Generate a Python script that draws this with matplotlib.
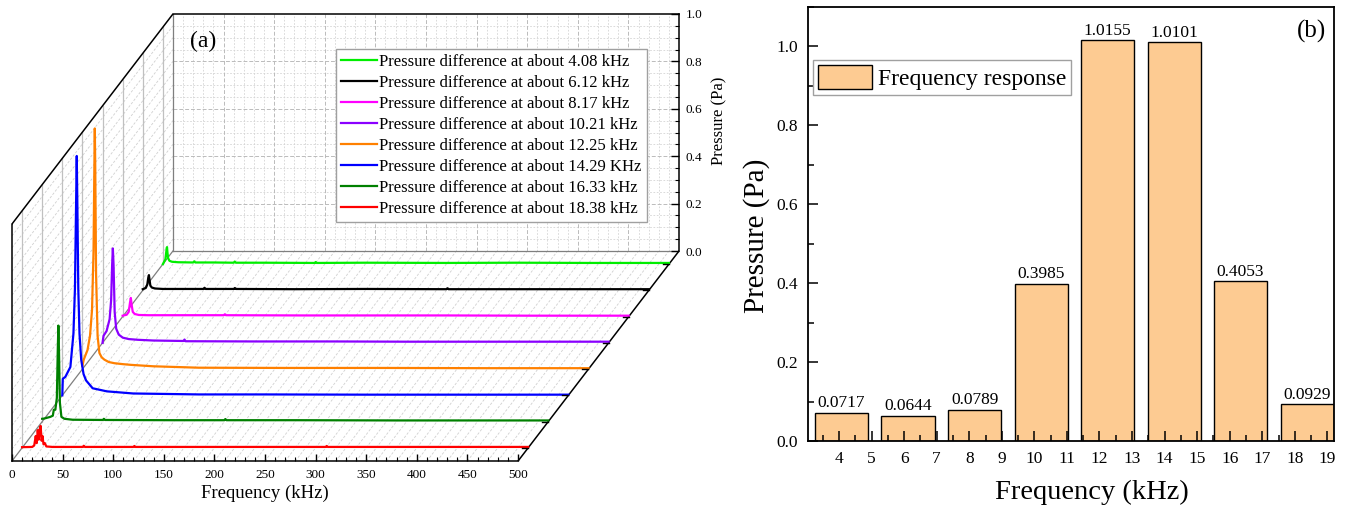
import matplotlib
matplotlib.use('Agg')
import matplotlib.pyplot as plt
import numpy as np
from matplotlib import transforms
from matplotlib.ticker import FixedLocator, MultipleLocator

plt.rcParams['font.family'] = ['Liberation Serif', 'DejaVu Serif']

# ---------------- data: panel (a) spectra ----------------
labels_a = ['Pressure difference at about 4.08 kHz', 'Pressure difference at about 6.12 kHz',
            'Pressure difference at about 8.17 kHz', 'Pressure difference at about 10.21 kHz',
            'Pressure difference at about 12.25 kHz', 'Pressure difference at about 14.29 KHz',
            'Pressure difference at about 16.33 kHz', 'Pressure difference at about 18.38 kHz']
colors_a = ['#00EE00', '#000000', '#FF00FF', '#8A00FF', '#FF8000', '#0000FF', '#008000', '#FF0000']

f_408 = [0, 1, 2.5, 3.3, 3.8, 4.1, 4.5, 5.2, 6.5, 9, 15, 30, 31, 32, 50, 70, 71, 72, 100, 150, 151, 152, 200, 280, 350, 420, 500]
p_408 = [0.0, 0.008, 0.02, 0.05, 0.068, 0.0717, 0.05, 0.025, 0.014, 0.01, 0.008, 0.007, 0.012, 0.007, 0.007, 0.006, 0.011, 0.006, 0.006, 0.005, 0.009, 0.005, 0.006, 0.005, 0.006, 0.005, 0.005]

f_612 = [0, 3, 4.5, 5.5, 6.1, 6.7, 7.5, 9, 12, 20, 60, 61, 62, 90, 91, 92, 150, 220, 300, 301, 302, 380, 450, 500]
p_612 = [0.005, 0.01, 0.025, 0.055, 0.0644, 0.045, 0.02, 0.012, 0.008, 0.006, 0.006, 0.011, 0.006, 0.006, 0.010, 0.006, 0.005, 0.006, 0.005, 0.009, 0.005, 0.005, 0.005, 0.005]

f_817 = [0, 4, 6, 7.3, 8.1, 8.9, 10, 12, 16, 25, 60, 100, 101, 102, 180, 250, 320, 400, 500]
p_817 = [0.004, 0.008, 0.02, 0.06, 0.0789, 0.05, 0.02, 0.011, 0.007, 0.006, 0.006, 0.006, 0.010, 0.006, 0.005, 0.005, 0.005, 0.004, 0.004]

f_1021 = [0, 1, 4, 7, 8.5, 9.5, 10.21, 10.9, 12, 13.5, 16, 20, 26, 35, 50, 80, 81, 82, 150, 230, 300, 400, 500]
p_1021 = [0.0, 0.03, 0.05, 0.1, 0.18, 0.33, 0.3985, 0.33, 0.13, 0.06, 0.035, 0.022, 0.016, 0.013, 0.010, 0.008, 0.014, 0.007, 0.006, 0.006, 0.005, 0.005, 0.005]

f_1225 = [0, 1.3, 5, 7.5, 9.5, 11, 11.8, 12.25, 12.7, 13.5, 15, 16.8, 19, 21.7, 26, 31.6, 40, 48, 70, 115, 200, 300, 400, 500]
p_1225 = [0.013, 0.04, 0.08, 0.14, 0.25, 0.5, 0.85, 1.0155, 0.85, 0.4, 0.14, 0.068, 0.05, 0.04, 0.03, 0.025, 0.021, 0.018, 0.012, 0.006, 0.005, 0.005, 0.004, 0.004]

f_1429 = [0, 0.5, 3, 8, 11, 12.5, 13.6, 14.29, 14.9, 15.8, 17, 18.7, 21, 23.5, 30, 44, 70, 135, 200, 300, 400, 500]
p_1429 = [0.0, 0.07, 0.078, 0.12, 0.26, 0.45, 0.8, 1.0101, 0.8, 0.45, 0.26, 0.15, 0.09, 0.063, 0.03, 0.017, 0.008, 0.004, 0.004, 0.003, 0.003, 0.003]

f_1633 = [0, 2, 8, 10.5, 11.5, 13, 14.5, 15.4, 16.0, 16.6, 17.5, 19, 22, 30, 60, 61, 62, 130, 180, 181, 182, 250, 350, 420, 500]
p_1633 = [0.012, 0.013, 0.02, 0.025, 0.05, 0.05, 0.1, 0.3, 0.4053, 0.3, 0.08, 0.02, 0.012, 0.008, 0.007, 0.012, 0.007, 0.006, 0.006, 0.011, 0.006, 0.006, 0.005, 0.005, 0.005]

f_1838 = [0, 10, 12, 13.5, 14.5, 15.5, 16.5, 17.5, 18.38, 19.3, 20.2, 21.2, 22.5, 24, 30, 60, 61, 62, 110, 111, 112, 200, 300, 301, 302, 400, 500]
p_1838 = [0.003, 0.004, 0.01, 0.05, 0.02, 0.075, 0.035, 0.08, 0.0929, 0.03, 0.05, 0.015, 0.02, 0.006, 0.004, 0.004, 0.009, 0.004, 0.004, 0.008, 0.004, 0.004, 0.004, 0.008, 0.004, 0.004, 0.004]

freqs_a = [f_408, f_612, f_817, f_1021, f_1225, f_1429, f_1633, f_1838]
press_a = [p_408, p_612, p_817, p_1021, p_1225, p_1429, p_1633, p_1838]

xticks_a = list(range(0, 501, 50))
zticks_a = [0.0, 0.2, 0.4, 0.6, 0.8, 1.0]

# ---------------- data: panel (b) bars ----------------
bar_freq = [4.08, 6.12, 8.17, 10.21, 12.25, 14.29, 16.33, 18.38]
bar_val = [0.0717, 0.0644, 0.0789, 0.3985, 1.0155, 1.0101, 0.4053, 0.0929]
xticks_b = list(range(4, 20))
yticks_b = [0.0, 0.2, 0.4, 0.6, 0.8, 1.0]

W, H = 1346, 511
fig = plt.figure(figsize=(W / 100, H / 100), dpi=100)


def px_axes(l, t, r, b):
    return [l / W, (H - b) / H, (r - l) / W, (b - t) / H]


# ================= panel (a): oblique waterfall =================
DX, DY = 159.0, 0.886       # depth shear (in kHz units and Pa units)
FMAX, PMAX = 500.0, 1.0
ax1 = fig.add_axes(px_axes(12, 14, 679, 461))
ax1.set_xlim(0, FMAX + DX)
ax1.set_ylim(0, PMAX + DY)


def off(d):
    return transforms.Affine2D().translate(DX * d, DY * d) + ax1.transData


nser = len(freqs_a)
depths = [(nser - 1 - i + 0.5) / nser for i in range(nser)]   # back (green) to front (red)

gmin = dict(color='#D4D4D4', lw=0.6, ls=(0, (2, 2)), zorder=0.5)
gmaj = dict(color='#BBBBBB', lw=0.7, ls=(0, (4, 2)), zorder=0.6)
fminor = [f for f in np.arange(10, 500, 10) if f % 50 != 0]
fmajor = [f for f in np.arange(50, 500, 50)]
pminor = [p for p in np.arange(0.05, 1.0, 0.05) if abs(p / 0.2 - round(p / 0.2)) > 1e-6]
pmajor = [0.2, 0.4, 0.6, 0.8]

# back wall grid (d = 1)
ax1.vlines(fminor, 0, PMAX, transform=off(1.0), **gmin)
ax1.vlines(fmajor, 0, PMAX, transform=off(1.0), **gmaj)
ax1.hlines(pminor, 0, FMAX, transform=off(1.0), **gmin)
ax1.hlines(pmajor, 0, FMAX, transform=off(1.0), **gmaj)

# floor grid (constant frequency lines going back)
for f in fminor + fmajor:
    ax1.plot([f, f + DX], [0, DY], color='#D0D0D0', lw=0.6, ls=(0, (3, 2)), zorder=0.5)
# left wall grid
for p in pminor + pmajor:
    ax1.plot([0, DX], [p, p + DY], color='#D0D0D0', lw=0.6, ls=(0, (3, 2)), zorder=0.5)
for d in depths:
    ax1.plot([0, 0], [0, PMAX], transform=off(d), color='#C0C0C0', lw=0.9, zorder=0.7)

# frame lines
ax1.plot([0, DX], [0, DY], color='#7F7F7F', lw=0.9, zorder=1)
ax1.plot([DX, DX], [DY, DY + PMAX], color='#7F7F7F', lw=0.9, zorder=1)
ax1.plot([DX, FMAX + DX], [DY, DY], color='#7F7F7F', lw=0.9, zorder=1)
ax1.plot([0, DX], [PMAX, PMAX + DY], color='black', lw=1.1, zorder=2)
ax1.plot([FMAX, FMAX + DX], [0, DY], color='black', lw=1.1, zorder=2)

# spectra
handles = []
for i in range(nser):
    d = depths[i]
    ln, = ax1.plot(freqs_a[i], press_a[i], color=colors_a[i], lw=1.6,
                   transform=off(d), zorder=3 + i, label=labels_a[i])
    handles.append(ln)
    ax1.plot([FMAX - 6, FMAX], [0, 0], color='black', lw=1.0, transform=off(d), zorder=20)

for s in ['left', 'bottom', 'top', 'right']:
    ax1.spines[s].set_linewidth(1.1)
ax1.spines['left'].set_bounds(0, PMAX)
ax1.spines['bottom'].set_bounds(0, FMAX)
ax1.spines['top'].set_bounds(DX, FMAX + DX)
ax1.spines['right'].set_bounds(DY, DY + PMAX)

ax1.set_xticks(xticks_a)
ax1.set_xticklabels([str(t) for t in xticks_a])
ax1.xaxis.set_minor_locator(FixedLocator(np.arange(0, 501, 10)))
ax1.tick_params(axis='x', which='both', direction='in', top=False, labelsize=9.5, pad=6)
ax1.tick_params(axis='x', which='major', length=5, width=1)
ax1.tick_params(axis='x', which='minor', length=3, width=0.8)

ax1.yaxis.tick_right()
ax1.set_yticks([DY + z for z in zticks_a])
ax1.set_yticklabels(['%.1f' % z for z in zticks_a])
ax1.yaxis.set_minor_locator(FixedLocator([DY + z for z in np.arange(0, 1.0001, 0.05)]))
ax1.tick_params(axis='y', which='both', direction='in', left=False, right=True, labelsize=9.5, pad=5)
ax1.tick_params(axis='y', which='major', length=6, width=1)
ax1.tick_params(axis='y', which='minor', length=3, width=0.8)

ax1.set_xlabel('Frequency (kHz)', fontsize=13.5)
ax1.xaxis.set_label_coords((265 - 12) / 667, (461 - 485) / 447)
ax1.text((719 - 12) / 667, (461 - 121) / 447, 'Pressure (Pa)', rotation=90, ha='center',
         va='center', fontsize=12, transform=ax1.transAxes)
ax1.text((203 - 12) / 667, (461 - 41) / 447, '(a)', ha='center', va='center', fontsize=17,
         transform=ax1.transAxes)

leg1 = ax1.legend(handles=handles, loc='upper left', bbox_to_anchor=((336 - 12) / 667, (461 - 49) / 447),
                  fontsize=12, frameon=True, fancybox=False, edgecolor='#A0A0A0', framealpha=1,
                  handlelength=2.15, handletextpad=0.15, labelspacing=0.3, borderpad=0.3,
                  borderaxespad=0)
leg1.get_frame().set_linewidth(1.0)
leg1.set_zorder(30)

# ================= panel (b): bar chart =================
ax2 = fig.add_axes(px_axes(808, 7, 1334, 441))
bars = ax2.bar(bar_freq, bar_val, width=1.63, color='#FDCB92', edgecolor='black', linewidth=1.0,
               label='Frequency response')
ax2.bar_label(bars, labels=['%.4f' % v for v in bar_val], padding=1, fontsize=12.5)
ax2.set_xlim(3.05, 19.2)
ax2.set_ylim(0, 1.1)
ax2.set_xticks(xticks_b)
ax2.set_xticklabels([str(t) for t in xticks_b])
ax2.xaxis.set_minor_locator(MultipleLocator(0.5))
ax2.set_yticks(yticks_b)
ax2.set_yticklabels(['%.1f' % t for t in yticks_b])
ax2.yaxis.set_minor_locator(MultipleLocator(0.1))
ax2.tick_params(which='both', direction='in', top=False, right=False, labelsize=12.5, width=1.1)
ax2.tick_params(which='major', length=7, pad=7)
ax2.tick_params(which='minor', length=4)
for s in ax2.spines.values():
    s.set_linewidth(1.3)
ax2.text((757 - 808) / 526, (441 - 236) / 434, 'Pressure (Pa)', rotation=90, ha='center', va='center',
         fontsize=21, transform=ax2.transAxes)
ax2.text((1092 - 808) / 526, (441 - 492) / 434, 'Frequency (kHz)', ha='center', va='center',
         fontsize=20.5, transform=ax2.transAxes)
ax2.text((1311 - 808) / 526, (441 - 31) / 434, '(b)', ha='center', va='center', fontsize=18,
         transform=ax2.transAxes)
leg2 = ax2.legend(loc='upper left', bbox_to_anchor=((813 - 808) / 526, (441 - 60) / 434),
                  fontsize=17, frameon=True, fancybox=False, edgecolor='#A0A0A0', framealpha=1,
                  handlelength=2.3, handleheight=1.2, handletextpad=0.25, borderpad=0.2,
                  borderaxespad=0)
leg2.get_frame().set_linewidth(1.0)

fig.savefig('out.png', dpi=100)
